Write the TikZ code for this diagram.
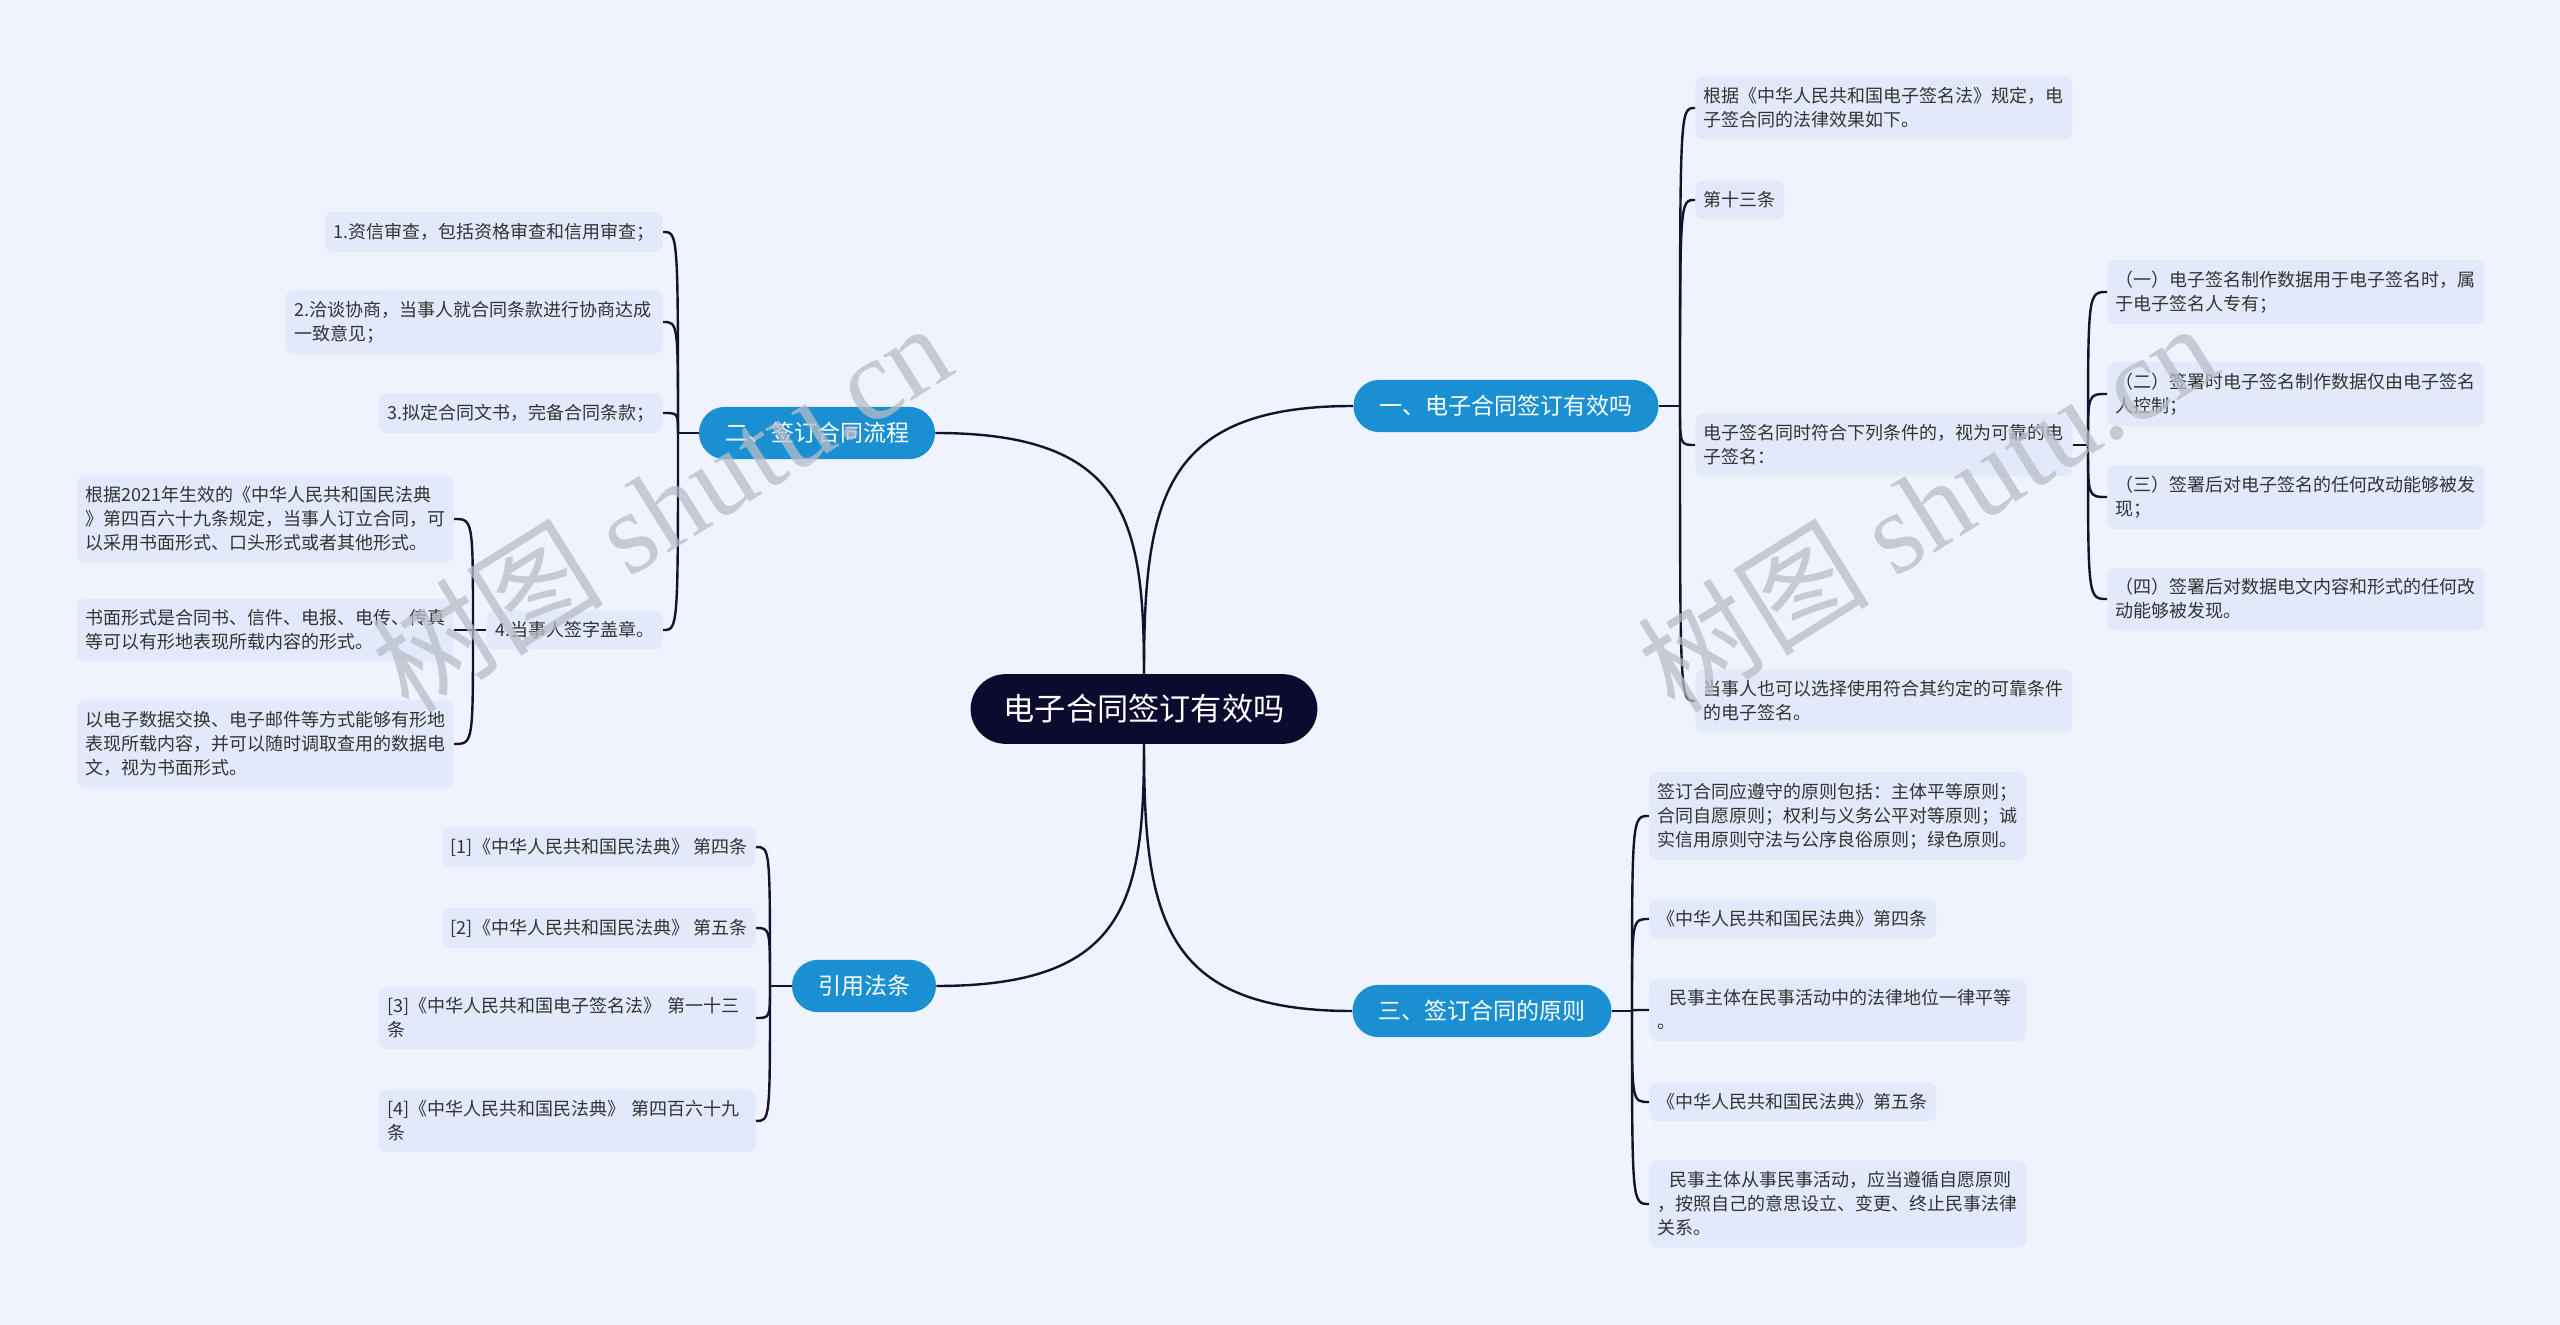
\documentclass[tikz,border=0pt]{standalone}
\usepackage{fontspec}
\setmainfont{Noto Sans CJK SC}
\newfontfamily\wmserif{Liberation Serif}
\definecolor{bgcol}{HTML}{EEF3FD}
\definecolor{leafcol}{HTML}{E1E9FA}
\definecolor{bluecol}{HTML}{1A8FD2}
\definecolor{navycol}{HTML}{0C0A2E}
\definecolor{linecol}{HTML}{14122C}
\definecolor{txtcol}{HTML}{333333}
\definecolor{wmcol}{HTML}{B8BDC8}
\begin{document}
\begin{tikzpicture}[x=0.5pt,y=-0.5pt,
  link/.style={draw=linecol,line width=1.2pt},
  leaf/.style={fill=leafcol,rounded corners=4pt,inner xsep=4.25pt,inner ysep=5.5pt,align=left,text=txtcol,font=\fontsize{9pt}{12pt}\selectfont},
  wide/.style={leaf,text width=180pt},
  branch/.style={fill=bluecol,rounded corners=13pt,text=white,inner xsep=13pt,inner ysep=7.75pt,font=\fontsize{11.5pt}{14pt}\selectfont},
  root/.style={fill=navycol,rounded corners=17.5pt,text=white,inner xsep=16.5pt,inner ysep=10.2pt,font=\fontsize{15.6pt}{18pt}\selectfont},
  wmark/.style={text=wmcol,opacity=0.75,rotate=32,font=\fontsize{58pt}{60pt}\selectfont}]
\fill[bgcol] (0,0) rectangle (2560,1325);

\node[root] (root) at (1144,709) {电子合同签订有效吗};
\node[branch] (valid) at (1506,406) {一、电子合同签订有效吗};
\node[branch] (proc) at (817,433) {二、签订合同流程};
\node[branch] (law) at (864,986) {引用法条};
\node[branch] (rule) at (1482,1011) {三、签订合同的原则};

\draw[link] (root.north) .. controls +(0,-175) and +(-190,0) .. (valid.west);
\draw[link] (root.north) .. controls +(0,-155) and +(190,0) .. (proc.east);
\draw[link] (root.south) .. controls +(0,157) and +(190,0) .. (law.east);
\draw[link] (root.south) .. controls +(0,172) and +(-190,0) .. (rule.west);

\node[wide,anchor=west] (valid1) at (1695,108) {根据《中华人民共和国电子签名法》规定，电\\子签合同的法律效果如下。};
\node[leaf,anchor=west] (valid2) at (1695,200) {第十三条};
\node[wide,anchor=west] (valid3) at (1695,445) {电子签名同时符合下列条件的，视为可靠的电\\子签名：};
\node[wide,anchor=west] (valid4) at (1695,701) {当事人也可以选择使用符合其约定的可靠条件\\的电子签名。};
\coordinate (vs) at (1680,406);
\draw[link] (valid.east) -- (vs);
\draw[link] (vs) .. controls (vs |- valid1.west) .. (valid1.west);
\draw[link] (vs) .. controls (vs |- valid2.west) .. (valid2.west);
\draw[link] (vs) .. controls (vs |- valid3.west) .. (valid3.west);
\draw[link] (vs) .. controls (vs |- valid4.west) .. (valid4.west);

\node[wide,anchor=west] (cond1) at (2107,292) {（一）电子签名制作数据用于电子签名时，属\\于电子签名人专有；};
\node[wide,anchor=west] (cond2) at (2107,394) {（二）签署时电子签名制作数据仅由电子签名\\人控制；};
\node[wide,anchor=west] (cond3) at (2107,497) {（三）签署后对电子签名的任何改动能够被发\\现；};
\node[wide,anchor=west] (cond4) at (2107,599) {（四）签署后对数据电文内容和形式的任何改\\动能够被发现。};
\coordinate (cs) at (2088,445);
\draw[link] (valid3.east) -- (cs);
\draw[link] (cs) .. controls (cs |- cond1.west) .. (cond1.west);
\draw[link] (cs) .. controls (cs |- cond2.west) .. (cond2.west);
\draw[link] (cs) .. controls (cs |- cond3.west) .. (cond3.west);
\draw[link] (cs) .. controls (cs |- cond4.west) .. (cond4.west);

\node[wide,anchor=west] (rule1) at (1649,816) {签订合同应遵守的原则包括：主体平等原则；\\合同自愿原则；权利与义务公平对等原则；诚\\实信用原则守法与公序良俗原则；绿色原则。};
\node[leaf,anchor=west] (rule2) at (1649,919) {《中华人民共和国民法典》第四条};
\node[wide,anchor=west] (rule3) at (1649,1010) {\hspace{6pt}民事主体在民事活动中的法律地位一律平等\\。\vphantom{国}};
\node[leaf,anchor=west] (rule4) at (1649,1102) {《中华人民共和国民法典》第五条};
\node[wide,anchor=west] (rule5) at (1649,1204) {\hspace{6pt}民事主体从事民事活动，应当遵循自愿原则\\，按照自己的意思设立、变更、终止民事法律\\关系。};
\coordinate (rs) at (1632,1011);
\draw[link] (rule.east) -- (rs);
\draw[link] (rs) .. controls (rs |- rule1.west) .. (rule1.west);
\draw[link] (rs) .. controls (rs |- rule2.west) .. (rule2.west);
\draw[link] (rs) .. controls (rs |- rule3.west) .. (rule3.west);
\draw[link] (rs) .. controls (rs |- rule4.west) .. (rule4.west);
\draw[link] (rs) .. controls (rs |- rule5.west) .. (rule5.west);

\node[leaf,anchor=east] (proc1) at (663,232) {1.资信审查，包括资格审查和信用审查；};
\node[wide,anchor=east] (proc2) at (663,322) {2.洽谈协商，当事人就合同条款进行协商达成\\一致意见；};
\node[leaf,anchor=east] (proc3) at (663,413) {3.拟定合同文书，完备合同条款；};
\node[leaf,anchor=east] (proc4) at (663,630) {4.当事人签字盖章。};
\coordinate (ps) at (678,433);
\draw[link] (proc.west) -- (ps);
\draw[link] (ps) .. controls (ps |- proc1.east) .. (proc1.east);
\draw[link] (ps) .. controls (ps |- proc2.east) .. (proc2.east);
\draw[link] (ps) .. controls (ps |- proc3.east) .. (proc3.east);
\draw[link] (ps) .. controls (ps |- proc4.east) .. (proc4.east);

\node[wide,anchor=east] (sign1) at (454,519) {根据2021年生效的《中华人民共和国民法典\\》第四百六十九条规定，当事人订立合同，可\\以采用书面形式、口头形式或者其他形式。};
\node[wide,anchor=east] (sign2) at (454,630) {书面形式是合同书、信件、电报、电传、传真\\等可以有形地表现所载内容的形式。};
\node[wide,anchor=east] (sign3) at (454,744) {以电子数据交换、电子邮件等方式能够有形地\\表现所载内容，并可以随时调取查用的数据电\\文，视为书面形式。};
\coordinate (ss) at (473,630);
\draw[link] (proc4.west) -- (ss);
\draw[link] (ss) .. controls (ss |- sign1.east) .. (sign1.east);
\draw[link] (ss) .. controls (ss |- sign2.east) .. (sign2.east);
\draw[link] (ss) .. controls (ss |- sign3.east) .. (sign3.east);

\node[leaf,anchor=east] (law1) at (756,847) {[1]《中华人民共和国民法典》 第四条};
\node[leaf,anchor=east] (law2) at (756,928) {[2]《中华人民共和国民法典》 第五条};
\node[wide,anchor=east] (law3) at (756,1018) {[3]《中华人民共和国电子签名法》 第一十三\\条};
\node[wide,anchor=east] (law4) at (756,1121) {[4]《中华人民共和国民法典》 第四百六十九\\条};
\coordinate (ls) at (770,986);
\draw[link] (law.west) -- (ls);
\draw[link] (ls) .. controls (ls |- law1.east) .. (law1.east);
\draw[link] (ls) .. controls (ls |- law2.east) .. (law2.east);
\draw[link] (ls) .. controls (ls |- law3.east) .. (law3.east);
\draw[link] (ls) .. controls (ls |- law4.east) .. (law4.east);

\node[wmark] (wmark1) at (661,506) {树图 {\wmserif shutu.cn}};
\node[wmark] (wmark2) at (1927,506) {树图 {\wmserif shutu.cn}};
\end{tikzpicture}
\end{document}
